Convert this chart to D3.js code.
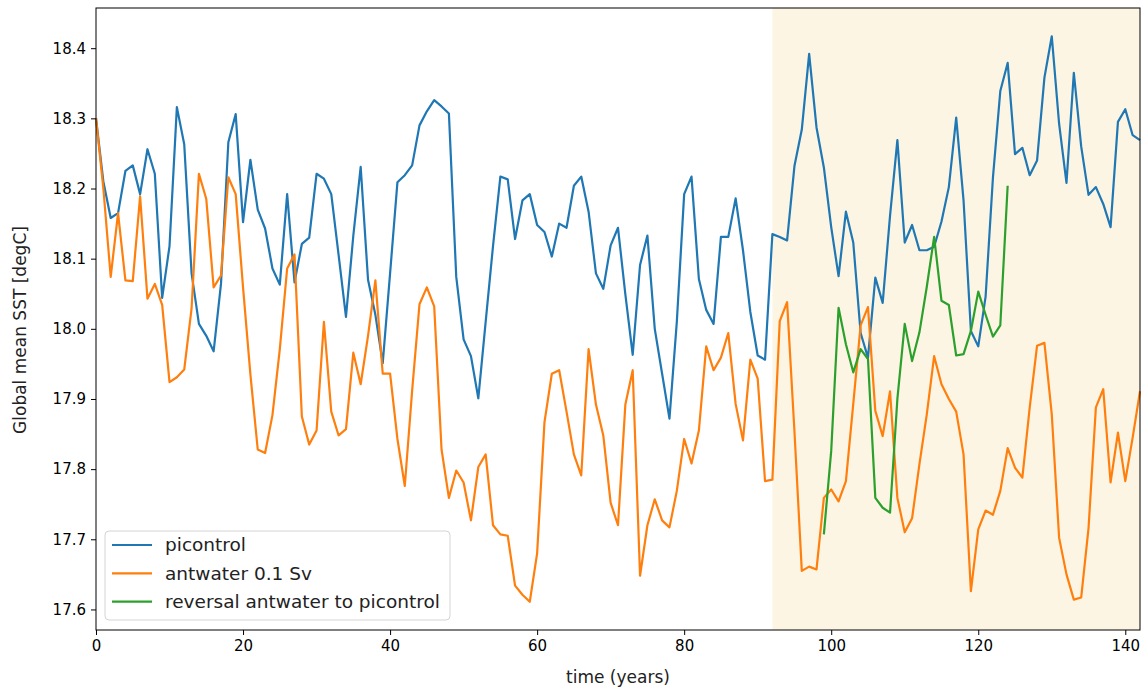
<!DOCTYPE html>
<html>
<head>
<meta charset="utf-8">
<script src="https://cdn.jsdelivr.net/npm/d3@7"></script>
<style>
  body { margin: 0; background: #fff; }
  text { font-family: "DejaVu Sans", sans-serif; }
</style>
</head>
<body>
<div id="vis"></div>
<script>
// global mean SST, one value per model year (starting at year 0)
let picontrol = [
  18.300, 18.210, 18.158, 18.165, 18.225, 18.233, 18.192, 18.256, 18.221, 18.044,
  18.118, 18.316, 18.263, 18.079, 18.007, 17.990, 17.968, 18.064, 18.266, 18.306,
  18.152, 18.241, 18.170, 18.143, 18.086, 18.063, 18.192, 18.066, 18.121, 18.130,
  18.221, 18.214, 18.192, 18.105, 18.017, 18.133, 18.231, 18.070, 18.020, 17.951,
  18.079, 18.209, 18.219, 18.233, 18.290, 18.310, 18.326, 18.317, 18.307, 18.074,
  17.985, 17.961, 17.901, 18.010, 18.118, 18.217, 18.213, 18.128, 18.183, 18.192,
  18.148, 18.138, 18.103, 18.150, 18.144, 18.204, 18.217, 18.167, 18.079, 18.057,
  18.119, 18.144, 18.049, 17.963, 18.091, 18.133, 18.000, 17.936, 17.872, 18.010,
  18.192, 18.217, 18.071, 18.027, 18.007, 18.131, 18.131, 18.186, 18.112, 18.024,
  17.962, 17.956, 18.135, 18.131, 18.126, 18.232, 18.284, 18.392, 18.287, 18.230,
  18.145, 18.075, 18.167, 18.123, 17.994, 17.959, 18.073, 18.037, 18.161, 18.269,
  18.123, 18.148, 18.112, 18.112, 18.117, 18.153, 18.202, 18.301, 18.183, 17.997,
  17.975, 18.046, 18.216, 18.339, 18.379, 18.249, 18.258, 18.219, 18.240, 18.358,
  18.417, 18.292, 18.208, 18.365, 18.260, 18.191, 18.202, 18.178, 18.145, 18.295,
  18.313, 18.276, 18.269
]
let antwater = [
  18.300, 18.200, 18.074, 18.165, 18.069, 18.068, 18.189, 18.043, 18.064, 18.034,
  17.924, 17.931, 17.942, 18.029, 18.221, 18.185, 18.059, 18.076, 18.216, 18.192,
  18.059, 17.935, 17.828, 17.823, 17.877, 17.971, 18.086, 18.106, 17.875, 17.835,
  17.855, 18.010, 17.882, 17.848, 17.857, 17.966, 17.921, 17.990, 18.069, 17.936,
  17.936, 17.843, 17.776, 17.912, 18.035, 18.059, 18.032, 17.828, 17.759, 17.798,
  17.781, 17.727, 17.803, 17.821, 17.720, 17.707, 17.705, 17.634, 17.621, 17.611,
  17.680, 17.867, 17.936, 17.941, 17.882, 17.821, 17.791, 17.971, 17.892, 17.848,
  17.752, 17.720, 17.892, 17.941, 17.648, 17.720, 17.757, 17.727, 17.717, 17.769,
  17.843, 17.808, 17.855, 17.975, 17.941, 17.959, 17.994, 17.893, 17.841, 17.956,
  17.929, 17.783, 17.785, 18.011, 18.038, 17.854, 17.655, 17.661, 17.657, 17.759,
  17.771, 17.754, 17.783, 17.893, 18.005, 18.031, 17.883, 17.847, 17.911, 17.759,
  17.710, 17.730, 17.807, 17.878, 17.961, 17.921, 17.900, 17.882, 17.821, 17.626,
  17.714, 17.741, 17.735, 17.769, 17.830, 17.802, 17.788, 17.888, 17.976, 17.980,
  17.878, 17.702, 17.650, 17.614, 17.617, 17.716, 17.888, 17.914, 17.781, 17.852,
  17.783, 17.845, 17.911
]
// reversal run starts at year 99
let reversalStart = 99
let reversal = [
  17.707, 17.826, 18.030, 17.978, 17.938, 17.971, 17.957, 17.759, 17.745, 17.738,
  17.900, 18.007, 17.954, 17.995, 18.060, 18.131, 18.040, 18.034, 17.962, 17.964,
  17.997, 18.053, 18.020, 17.989, 18.005, 18.204
]
let seriesNames = ['picontrol', 'antwater 0.1 Sv', 'reversal antwater to picontrol']
let seriesColors = ['#1f77b4', '#ff7f0e', '#2ca02c']
let span = [92, 142]           // shaded period (years)
let xTicks = [0, 20, 40, 60, 80, 100, 120, 140]
let yTicks = [17.6, 17.7, 17.8, 17.9, 18.0, 18.1, 18.2, 18.3, 18.4]

let margin = { top: 8, left: 96, right: 8, bottom: 60 },
  width = 1148 - margin.left - margin.right,
  height = 690 - margin.top - margin.bottom

let svg = d3.select('#vis')
  .append('svg')
  .attr('width', 1148)
  .attr('height', 690)
  .append('g')
  .attr('transform', 'translate(' + margin.left + ',' + margin.top + ')')

// build point lists
let series = [
  picontrol.map((v, i) => [i, v]),
  antwater.map((v, i) => [i, v]),
  reversal.map((v, i) => [reversalStart + i, v])
]

// scales (matplotlib style 5% padding on y)
let allVals = picontrol.concat(antwater, reversal)
let yMin = d3.min(allVals), yMax = d3.max(allVals)
let pad = (yMax - yMin) * 0.05
let xScale = d3.scaleLinear().domain([0, picontrol.length - 1]).range([0, width])
let yScale = d3.scaleLinear().domain([yMin - pad, yMax + pad]).range([height, 0])

// shaded span
svg.append('rect')
  .attr('x', xScale(span[0]))
  .attr('y', 0)
  .attr('width', xScale(span[1]) - xScale(span[0]))
  .attr('height', height)
  .attr('fill', '#fdf5e3')

// lines
let line = d3.line()
  .x(d => xScale(d[0]))
  .y(d => yScale(d[1]))

svg.selectAll('path.series')
  .data(series)
  .enter()
  .append('path')
  .attr('class', 'series')
  .attr('d', line)
  .attr('fill', 'none')
  .attr('stroke', (d, i) => seriesColors[i])
  .attr('stroke-width', 2.2)
  .attr('stroke-linejoin', 'round')

// frame
svg.append('rect')
  .attr('width', width)
  .attr('height', height)
  .attr('fill', 'none')
  .attr('stroke', '#000')
  .attr('stroke-width', 1)

// X-axis
let xAxis = svg.append('g')
  .attr('transform', 'translate(0,' + height + ')')
  .call(d3.axisBottom(xScale).tickValues(xTicks).tickSize(5).tickPadding(5).tickSizeOuter(0))
xAxis.select('.domain').remove()
xAxis.selectAll('text').attr('font-size', 15).attr('fill', '#000').attr('font-family', '"DejaVu Sans", sans-serif')
xAxis.append('text')
  .attr('x', width / 2)
  .attr('y', 53)
  .attr('fill', '#222')
  .attr('font-size', 17)
  .style('text-anchor', 'middle')
  .text('time (years)')

// Y-axis
let yAxis = svg.append('g')
  .call(d3.axisLeft(yScale).tickValues(yTicks).tickFormat(d3.format('.1f')).tickSize(5).tickPadding(5).tickSizeOuter(0))
yAxis.select('.domain').remove()
yAxis.selectAll('text').attr('font-size', 15).attr('fill', '#000').attr('font-family', '"DejaVu Sans", sans-serif')
yAxis.append('text')
  .attr('transform', 'rotate(-90)')
  .attr('x', -(height / 2 + 11))
  .attr('y', -70)
  .attr('fill', '#222')
  .attr('font-size', 17)
  .style('text-anchor', 'middle')
  .text('Global mean SST [degC]')

// legend
let legend = svg.append('g')
  .attr('transform', 'translate(9,523)')
legend.append('rect')
  .attr('width', 345)
  .attr('height', 89)
  .attr('rx', 4)
  .attr('fill', '#fff')
  .attr('fill-opacity', 0.8)
  .attr('stroke', '#d4d4d4')
let items = legend.selectAll('g.item')
  .data(seriesNames)
  .enter()
  .append('g')
  .attr('class', 'item')
  .attr('transform', (d, i) => 'translate(0,' + (14 + i * 28.3) + ')')
items.append('line')
  .attr('x1', 7).attr('x2', 47)
  .attr('stroke', (d, i) => seriesColors[i])
  .attr('stroke-width', 2.2)
items.append('text')
  .attr('x', 60)
  .attr('dy', '0.35em')
  .attr('font-size', 18.5)
  .attr('fill', '#222')
  .text(d => d)
</script>
</body>
</html>
